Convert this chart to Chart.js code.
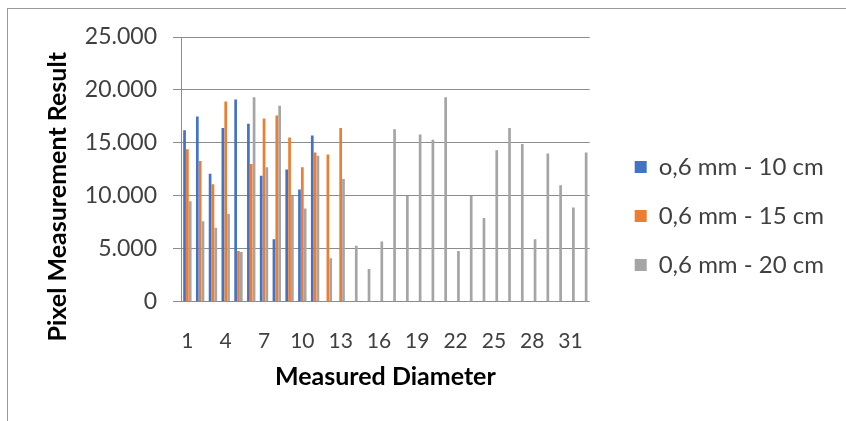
<!DOCTYPE html>
<html><head><meta charset="utf-8">
<script src="https://cdn.jsdelivr.net/npm/chart.js@4/dist/chart.umd.min.js"></script>
<style>
html,body{margin:0;padding:0;background:#fff;overflow:hidden}
#frame{position:absolute;left:7px;top:8px;width:900px;height:500px;border:1px solid #9a9a9a;}
#wrap{position:absolute;left:0;top:0;width:846px;height:421px}
</style></head><body>
<div id="frame"></div>
<div id="wrap"><canvas id="c" width="846" height="421"></canvas></div>
<script>
const categories = ["1","2","3","4","5","6","7","8","9","10","11","12","13","14","15","16",
  "17","18","19","20","21","22","23","24","25","26","27","28","29","30","31","32"];
const seriesNames = ["o,6 mm - 10 cm", "0,6 mm - 15 cm", "0,6 mm - 20 cm"];
const blue10 = [16200,17500,12100,16400,19100,16800,11900,5900,12500,10600,15700,null,null,
  null,null,null,null,null,null,null,null,null,null,null,null,null,null,null,null,null,null,null];
const orange15 = [14400,13300,11100,18900,4800,13000,17300,17600,15500,12700,14100,13900,16400,
  null,null,null,null,null,null,null,null,null,null,null,null,null,null,null,null,null,null,null];
const gray20 = [9500,7600,7000,8300,4700,19300,12700,18500,10000,8800,13800,4100,11600,
  5300,3100,5700,16300,10000,15800,15300,19300,4800,10000,7900,14300,16400,14900,5900,14000,11000,8900,14100];
const yTicks = [0,5000,10000,15000,20000,25000];
const xTitle = 'Measured Diameter';
const yTitle = 'Pixel Measurement Result';

function fmt(v){ return v === 0 ? '0' : String(v).replace(/\B(?=(\d{3})+(?!\d))/g, '.'); }

new Chart(document.getElementById('c'), {
  type: 'bar',
  data: {
    labels: categories,
    datasets: [
      {label: seriesNames[0], data: blue10, backgroundColor: '#4472C4'},
      {label: seriesNames[1], data: orange15, backgroundColor: '#ED7D31'},
      {label: seriesNames[2], data: gray20, backgroundColor: '#A5A5A5'}
    ]
  },
  options: {
    responsive: false,
    devicePixelRatio: 1,
    animation: false,
    datasets: {bar: {categoryPercentage: 0.667, barPercentage: 0.95}},
    layout: {padding: {top: 37, right: 12, bottom: 26, left: 43}},
    plugins: {
      tooltip: {enabled: false},
      legend: {
        position: 'right',
        maxWidth: 320,
        labels: {
          boxWidth: 12, boxHeight: 12, padding: 25,
          color: '#404040',
          font: {family: 'Lato', size: 24}
        }
      }
    },
    scales: {
      x: {
        grid: {display: false, drawTicks: false},
        border: {display: false},
        ticks: {
          autoSkip: false, maxRotation: 0, padding: 27,
          color: '#404040', font: {family: 'Lato', size: 21},
          callback: function(v, i){ return i % 3 === 0 ? categories[i] : ''; }
        },
        title: {display: true, text: xTitle, color: '#000',
          font: {family: 'Lato', size: 25, weight: 'bold'}, padding: {top: -19, bottom: 3}}
      },
      y: {
        min: 0, max: 25000,
        afterBuildTicks: function(s){ s.ticks = yTicks.map(v => ({value: v})); },
        afterFit: function(s){ s.width = 138; },
        grid: {color: '#8c8c8c', lineWidth: 1, drawTicks: true, tickLength: 8},
        border: {display: true, color: '#8c8c8c'},
        ticks: {padding: 16, color: '#404040', font: {family: 'Lato', size: 23}, callback: v => fmt(v)},
        title: {display: true, text: yTitle + '\u00A0\u00A0\u00A0\u00A0\u00A0\u00A0\u00A0\u00A0\u00A0', color: '#000',
          font: {family: 'Lato', size: 25, weight: 'bold'}, padding: {top: 0, bottom: 15}}
      },
      y2: {
        position: 'right',
        display: true,
        grid: {display: false, drawTicks: false},
        border: {display: false},
        ticks: {display: false},
        afterFit: function(s){ s.width = 20; }
      }
    }
  }
});
</script>
</body></html>
